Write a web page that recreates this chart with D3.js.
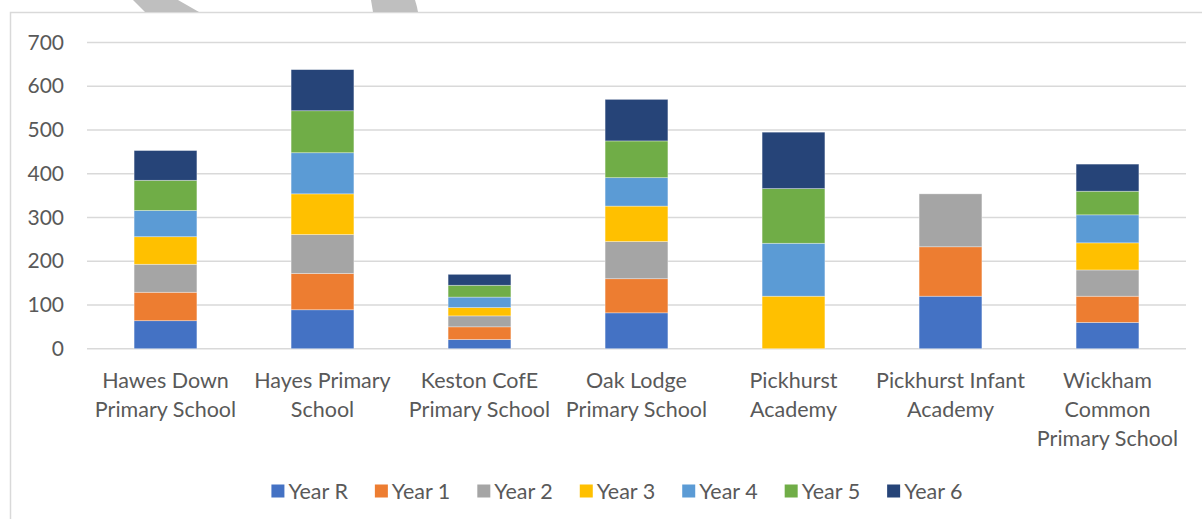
<!DOCTYPE html>
<html>
<head>
<meta charset="utf-8">
<script src="https://cdn.jsdelivr.net/npm/d3@7"></script>
<style>
  html, body { margin: 0; padding: 0; background: #fff; }
  svg { display: block; font-family: Lato, "Open Sans", sans-serif; }
</style>
</head>
<body>
<svg id="chart" width="1202" height="519"></svg>
<script>
// ---- data ----
const categoryLines = [
  ["Hawes Down", "Primary School"],
  ["Hayes Primary", "School"],
  ["Keston CofE", "Primary School"],
  ["Oak Lodge", "Primary School"],
  ["Pickhurst", "Academy"],
  ["Pickhurst Infant", "Academy"],
  ["Wickham", "Common", "Primary School"]
];
const categories = categoryLines.map(l => l.join(" "));
const seriesNames = ["Year R", "Year 1", "Year 2", "Year 3", "Year 4", "Year 5", "Year 6"];
const yearR = [64, 89, 21, 82, 0, 120, 60];
const year1 = [65, 83, 29, 78, 0, 113, 60];
const year2 = [64, 89, 25, 85, 0, 121, 60];
const year3 = [63, 93, 19, 81, 120, 0, 62];
const year4 = [60, 94, 24, 65, 121, 0, 64];
const year5 = [69, 96, 27, 84, 125, 0, 54];
const year6 = [68, 94, 25, 95, 129, 0, 62];
const yTicks = [0, 100, 200, 300, 400, 500, 600, 700];
const colors = ["#4472C4", "#ED7D31", "#A5A5A5", "#FFC000", "#5B9BD5", "#70AD47", "#264478"];

const seriesValues = [yearR, year1, year2, year3, year4, year5, year6];
const rows = categories.map((c, i) => {
  const r = { category: c };
  seriesNames.forEach((s, k) => r[s] = seriesValues[k][i]);
  return r;
});

// ---- layout ----
const svg = d3.select("#chart");
const plot = { left: 87, right: 1186, top: 42.5, bottom: 348.7 };
const textColor = "#595959";
const gridColor = "#D9D9D9";
const labelSize = "21.5px";

// chart frame
svg.append("rect")
  .attr("x", 10.5).attr("y", 12.5)
  .attr("width", 1300).attr("height", 600)
  .attr("fill", "#fff").attr("stroke", gridColor).attr("stroke-width", 1.5);

// decorative grey shapes above the frame
svg.append("path")
  .attr("d", "M133,0 L178,0 L199,12 L145,12 Z")
  .attr("fill", "#BFBFBF");
svg.append("path")
  .attr("d", "M371,0 L415,0 Q417,6 418,12 L373,12 Z")
  .attr("fill", "#BFBFBF");

const x = d3.scaleBand()
  .domain(categories)
  .range([plot.left, plot.right])
  .paddingInner(0.6)
  .paddingOuter(0.3);

const y = d3.scaleLinear()
  .domain([0, 700])
  .range([plot.bottom, plot.top]);

// gridlines
svg.append("g")
  .selectAll("line")
  .data(yTicks)
  .join("line")
  .attr("x1", plot.left).attr("x2", plot.right)
  .attr("y1", d => y(d)).attr("y2", d => y(d))
  .attr("stroke", gridColor).attr("stroke-width", 1.5);

// y axis labels
const yAxis = d3.axisLeft(y).tickValues(yTicks).tickSize(0).tickPadding(0);
const yg = svg.append("g")
  .attr("transform", `translate(64,0)`)
  .call(yAxis);
yg.select(".domain").remove();
yg.selectAll("text")
  .attr("fill", textColor)
  .style("font-size", "21px")
  .style("font-family", "Lato, sans-serif");

// stacked bars
const stack = d3.stack().keys(seriesNames);
const stacked = stack(rows);

svg.append("g")
  .selectAll("g")
  .data(stacked)
  .join("g")
  .attr("fill", (d, i) => colors[i])
  .selectAll("rect")
  .data(d => d.filter(p => p[1] - p[0] > 0))
  .join("rect")
  .attr("x", d => x(d.data.category))
  .attr("width", x.bandwidth())
  .attr("y", d => y(d[1]))
  .attr("height", d => y(d[0]) - y(d[1]))
  .attr("stroke", "#ffffff")
  .attr("stroke-opacity", 0.45)
  .attr("stroke-width", 0.75);

// x axis labels
const xg = svg.append("g");
categories.forEach((c, i) => {
  const t = xg.append("text")
    .attr("x", x(c) + x.bandwidth() / 2)
    .attr("y", 388)
    .attr("text-anchor", "middle")
    .attr("fill", textColor)
    .style("font-size", labelSize);
  categoryLines[i].forEach((line, j) => {
    t.append("tspan")
      .attr("x", x(c) + x.bandwidth() / 2)
      .attr("y", 388 + j * 29)
      .text(line);
  });
});

// legend
const legend = svg.append("g");
const items = legend.selectAll("g")
  .data(seriesNames)
  .join("g");
items.append("rect")
  .attr("width", 13).attr("height", 13)
  .attr("y", 484.5)
  .attr("fill", (d, i) => colors[i]);
items.append("text")
  .attr("x", 17).attr("y", 499)
  .attr("fill", textColor)
  .style("font-size", labelSize)
  .text(d => d);
const gap = 27;
let cx = 0;
const offsets = [];
items.each(function () {
  const w = d3.select(this).select("text").node().getComputedTextLength();
  offsets.push(cx);
  cx += 17 + w + gap;
});
const totalW = cx - gap;
const startX = 617 - totalW / 2;
items.attr("transform", (d, i) => `translate(${startX + offsets[i]},0)`);
</script>
</body>
</html>
